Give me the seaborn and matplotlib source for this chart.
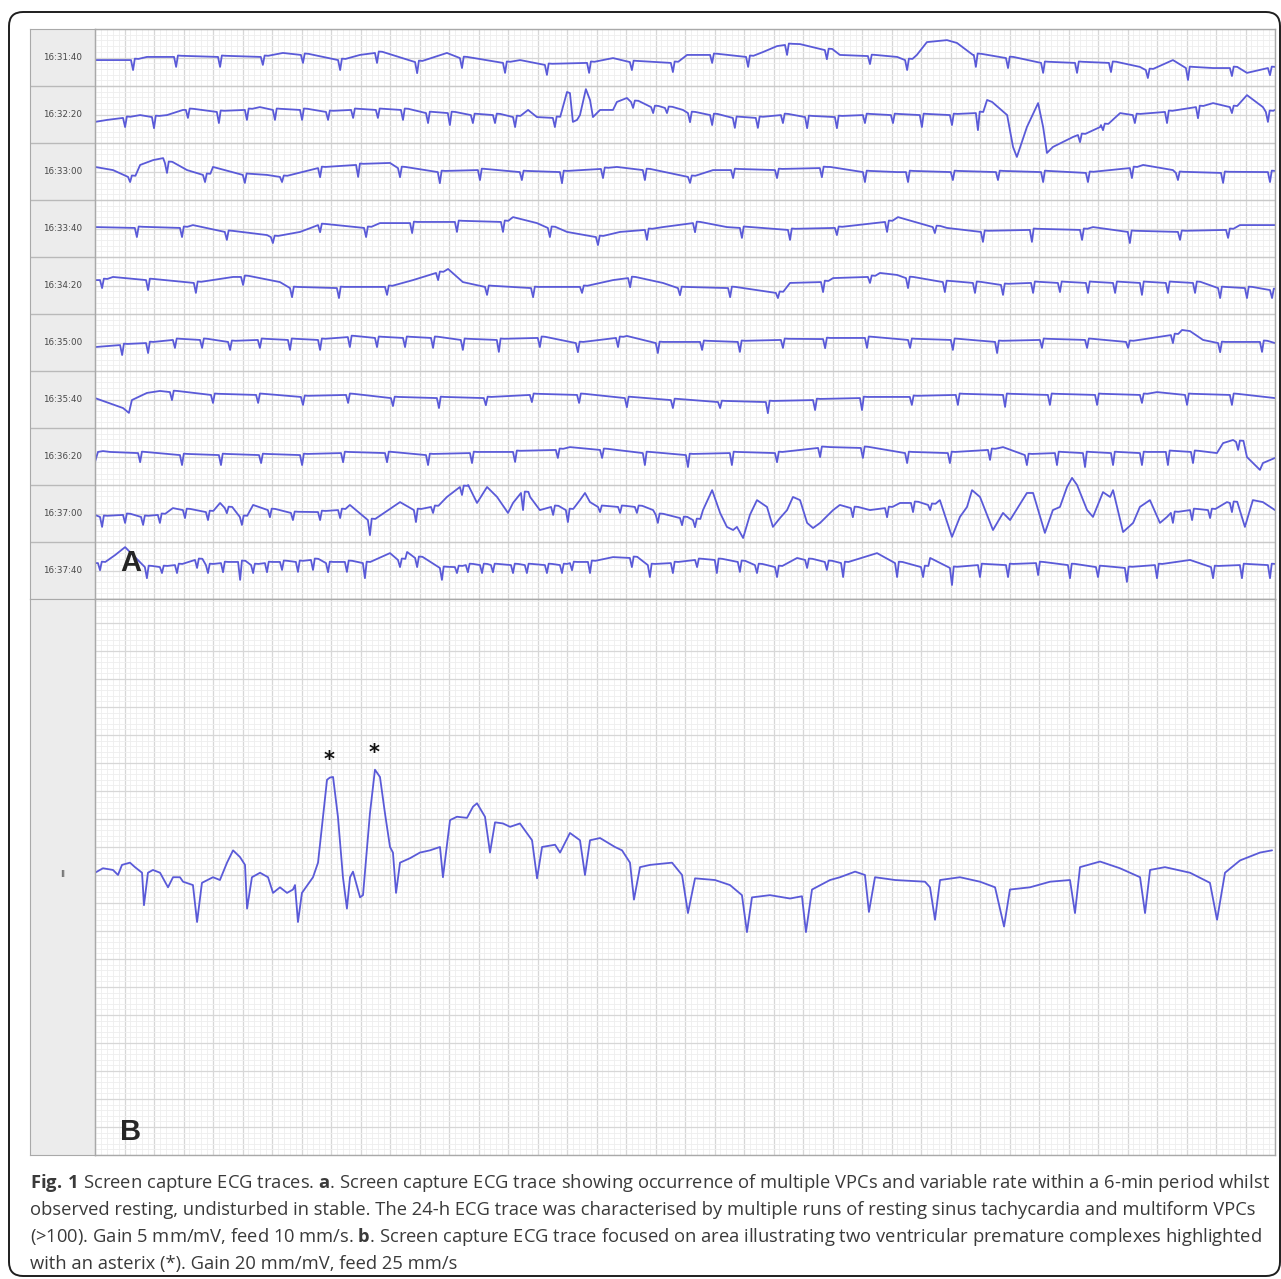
import numpy as np
import pandas as pd
import seaborn as sns
import matplotlib.pyplot as plt
from matplotlib.patches import FancyBboxPatch
from matplotlib.ticker import MultipleLocator

# ---------------- data read off the screen capture ----------------
# panel A: ten 40 s strips (time in s from strip start, amplitude in mV)
row_labels = ["16:31:40", "16:32:20", "16:33:00", "16:33:40", "16:34:20",
              "16:35:00", "16:35:40", "16:36:20", "16:37:00", "16:37:40"]

# QRS complexes: time, baseline level, depth of the negative deflection
beat_t = [
    [1.29, 2.75, 4.24, 5.69, 7.05, 8.31, 9.56, 10.92, 12.44, 13.90, 15.32, 16.75, 18.20, 19.59, 20.92,
     22.14, 23.46, 24.81, 26.27, 27.53, 29.86, 30.95, 32.14, 33.29, 34.44, 35.69, 37.05, 38.54, 39.83],
    [1.02, 2.00, 3.15, 4.20, 5.15, 6.10, 7.02, 7.90, 8.75, 9.59, 10.44, 11.29, 12.03, 12.81, 13.56,
     14.24, 15.59, 18.24, 18.92, 19.39, 20.17, 20.92, 21.69, 22.47, 23.32, 24.14, 25.15, 26.10, 27.05,
     28.03, 29.05, 29.93, 33.39, 34.17, 35.25, 36.34, 37.39, 38.54, 39.76],
    [1.19, 2.44, 3.73, 5.08, 6.34, 7.63, 8.92, 10.34, 11.69, 13.05, 14.47, 15.83, 17.22, 18.64, 20.17,
     21.63, 23.12, 24.64, 26.10, 27.56, 29.08, 30.61, 32.14, 33.66, 35.15, 36.71, 38.24, 39.83],
    [1.42, 2.95, 4.47, 6.03, 7.63, 9.19, 10.75, 12.27, 13.83, 15.42, 17.05, 18.71, 20.34, 21.93, 23.56,
     25.15, 26.85, 28.47, 30.10, 31.76, 33.46, 35.08, 36.78, 38.41],
    [0.24, 1.80, 3.42, 5.02, 6.68, 8.27, 9.90, 11.63, 13.29, 14.85, 16.51, 18.14, 19.83, 21.53, 23.15,
     24.68, 26.27, 27.56, 28.81, 29.83, 30.78, 31.80, 32.71, 33.66, 34.58, 35.49, 36.37, 37.29, 38.14,
     39.05, 39.90],
    [0.92, 1.80, 2.71, 3.63, 4.58, 5.59, 6.61, 7.63, 8.64, 9.56, 10.51, 11.46, 12.47, 13.69, 15.08,
     16.37, 17.73, 19.08, 20.58, 21.86, 23.32, 24.75, 26.17, 27.63, 29.08, 30.58, 32.10, 33.63, 35.02,
     36.54, 38.14, 39.56],
    [2.61, 4.00, 5.53, 7.05, 8.58, 10.10, 11.66, 13.25, 14.81, 16.41, 18.03, 19.59, 21.19, 22.81, 24.41,
     26.00, 27.69, 29.25, 30.85, 32.37, 33.97, 35.49, 37.02, 38.54],
    [1.53, 2.95, 4.27, 5.63, 7.02, 8.41, 9.90, 11.29, 12.78, 14.24, 15.69, 17.19, 18.64, 20.10, 21.59,
     23.12, 24.58, 26.03, 27.53, 28.98, 30.34, 31.59, 32.61, 33.56, 34.51, 35.49, 36.37, 37.22, 38.75],
    [0.24, 1.02, 1.63, 2.20, 3.05, 3.83, 4.47, 4.98, 5.93, 6.71, 7.63, 8.31, 9.32, 10.88, 11.46, 12.44,
     14.51, 15.53, 16.03, 17.12, 17.80, 18.37, 19.08, 19.90, 20.34, 25.69, 26.85, 27.73, 28.31, 36.54,
     37.19, 37.80, 38.54],
    [0.17, 1.76, 2.27, 2.78, 3.46, 3.83, 4.34, 4.92, 5.36, 5.83, 6.34, 6.88, 7.39, 7.90, 8.54, 9.15,
     10.34, 10.92, 11.76, 12.27, 12.64, 13.12, 13.49, 14.17, 14.64, 15.32, 15.83, 16.17, 16.78, 18.20,
     18.81, 19.59, 20.41, 21.08, 21.86, 22.44, 23.12, 24.14, 24.81, 25.36, 27.19, 28.07, 29.05, 30.00,
     30.95, 31.97, 33.05, 34.00, 34.98, 36.00, 37.90, 38.88, 39.83],
]
beat_level = [
    [-0.09, 0.02, 0.02, 0.02, 0.09, -0.09, 0.16, -0.16, -0.02, -0.19, -0.26, -0.19, -0.16, -0.19, 0.09,
     0.02, 0.44, 0.26, 0.05, -0.09, 0.09, -0.02, -0.19, -0.19, -0.19, -0.44, -0.37, -0.37, -0.37],
    [-0.12, -0.09, 0.16, 0.09, 0.16, 0.16, 0.16, 0.09, 0.16, 0.16, 0.16, 0.05, 0.05, -0.02, -0.02,
     -0.09, -0.12, 0.44, 0.26, 0.23, 0.05, -0.02, -0.12, -0.12, -0.02, -0.09, -0.09, -0.02, -0.02,
     -0.02, -0.02, 0.05, -0.72, -0.37, -0.02, 0.09, 0.26, 0.26, 0.09],
    [-0.19, 0.30, -0.12, -0.12, -0.19, 0.12, 0.23, 0.12, -0.02, 0.05, -0.02, -0.02, 0.09, 0.05, -0.19,
     0.05, 0.05, 0.12, -0.02, -0.02, -0.02, -0.02, -0.02, -0.05, 0.12, -0.05, -0.05, -0.02],
    [0.02, 0.02, -0.12, -0.30, 0.12, 0.02, 0.19, 0.23, 0.23, 0.02, -0.30, -0.05, 0.19, 0.02, -0.05,
     0.02, 0.23, 0.05, -0.12, -0.05, -0.05, -0.12, -0.12, -0.05],
    [0.19, 0.19, 0.09, 0.30, -0.09, -0.09, -0.05, 0.44, -0.05, -0.09, -0.05, 0.26, -0.09, -0.09, -0.26,
     0.12, 0.30, 0.26, 0.12, 0.09, 0.02, 0.09, 0.09, 0.09, 0.09, 0.09, 0.09, 0.09, -0.09, -0.09, -0.16],
    [-0.09, -0.02, 0.09, 0.09, 0.02, 0.09, 0.09, 0.09, 0.19, 0.16, 0.16, 0.16, 0.09, 0.09, 0.16, -0.02,
     0.16, -0.02, 0.02, 0.02, 0.09, 0.12, 0.16, 0.09, 0.09, 0.02, 0.09, 0.09, 0.02, 0.26, -0.02, 0.02],
    [0.26, 0.16, 0.16, 0.09, 0.16, 0.05, 0.05, 0.05, 0.16, 0.16, 0.05, -0.02, -0.09, -0.09, -0.02,
     0.05, 0.09, 0.16, 0.16, 0.16, 0.16, 0.16, 0.16, 0.16],
    [0.12, 0.05, 0.05, 0.05, 0.05, 0.12, 0.12, 0.05, 0.12, 0.16, 0.23, 0.23, 0.12, 0.05, 0.12, 0.12,
     0.30, 0.30, 0.12, 0.12, 0.23, 0.05, 0.12, 0.12, 0.12, 0.12, 0.16, 0.16, 0.51],
    [-0.12, -0.05, -0.12, -0.05, 0.12, 0.05, 0.19, -0.12, 0.12, 0.02, 0.05, 0.12, -0.23, 0.12, 0.23,
     0.93, 0.72, 0.23, 0.12, 0.23, 0.23, 0.23, -0.05, -0.16, -0.23, 0.19, 0.19, 0.37, 0.30, 0.02, 0.12,
     0.12, 0.37],
    [0.26, 0.12, 0.12, 0.19, 0.37, 0.19, 0.26, 0.30, 0.19, 0.26, 0.30, 0.30, 0.37, 0.26, 0.30, 0.26,
     0.37, 0.44, 0.09, 0.12, 0.19, 0.19, 0.19, 0.19, 0.19, 0.19, 0.19, 0.26, 0.30, 0.44, 0.19, 0.26,
     0.37, 0.37, 0.30, 0.19, 0.12, 0.37, 0.30, 0.26, 0.26, 0.12, 0.09, 0.19, 0.19, 0.26, 0.19, 0.12,
     0.09, 0.19, 0.12, 0.19, 0.19],
]
beat_depth = [
    [0.35, 0.35, 0.35, 0.28, 0.28, 0.35, 0.35, 0.39, 0.35, 0.35, 0.35, 0.35, 0.28, 0.32, 0.28, 0.35,
     0.35, 0.32, 0.28, 0.35, 0.42, 0.35, 0.35, 0.35, 0.32, 0.28, 0.42, 0.28, 0.25],
    [0.32, 0.39, 0.28, 0.39, 0.35, 0.35, 0.35, 0.28, 0.28, 0.28, 0.35, 0.35, 0.42, 0.28, 0.28, 0.35,
     0.32, 0.21, 0.21, 0.18, 0.32, 0.35, 0.35, 0.35, 0.28, 0.39, 0.39, 0.28, 0.28, 0.42, 0.35, 0.60,
     0.25, 0.18, 0.28, 0.39, 0.39, 0.21, 0.35],
    [0.18, 0.35, 0.25, 0.28, 0.18, 0.32, 0.42, 0.32, 0.39, 0.35, 0.28, 0.39, 0.32, 0.35, 0.21, 0.28,
     0.28, 0.32, 0.35, 0.35, 0.28, 0.28, 0.35, 0.32, 0.35, 0.25, 0.35, 0.35],
    [0.32, 0.32, 0.28, 0.21, 0.25, 0.32, 0.35, 0.35, 0.35, 0.32, 0.28, 0.35, 0.32, 0.35, 0.35, 0.25,
     0.35, 0.21, 0.35, 0.42, 0.35, 0.39, 0.28, 0.28],
    [0.28, 0.35, 0.35, 0.28, 0.32, 0.35, 0.28, 0.25, 0.28, 0.32, 0.21, 0.32, 0.25, 0.32, 0.18, 0.35,
     0.21, 0.35, 0.35, 0.35, 0.35, 0.35, 0.32, 0.35, 0.35, 0.42, 0.35, 0.35, 0.35, 0.35, 0.28],
    [0.35, 0.35, 0.28, 0.28, 0.28, 0.28, 0.35, 0.35, 0.35, 0.32, 0.32, 0.35, 0.35, 0.42, 0.32, 0.32,
     0.32, 0.35, 0.28, 0.35, 0.28, 0.32, 0.35, 0.28, 0.35, 0.39, 0.28, 0.28, 0.21, 0.28, 0.32, 0.35],
    [0.28, 0.28, 0.28, 0.28, 0.28, 0.28, 0.35, 0.25, 0.25, 0.28, 0.32, 0.28, 0.21, 0.39, 0.35, 0.42,
     0.28, 0.35, 0.42, 0.35, 0.35, 0.28, 0.35, 0.35],
    [0.32, 0.35, 0.35, 0.28, 0.35, 0.32, 0.32, 0.35, 0.35, 0.35, 0.28, 0.28, 0.42, 0.42, 0.42, 0.32,
     0.32, 0.35, 0.35, 0.35, 0.35, 0.35, 0.42, 0.49, 0.42, 0.42, 0.46, 0.39, 0.28],
    [0.35, 0.28, 0.28, 0.28, 0.28, 0.28, 0.18, 0.28, 0.25, 0.25, 0.28, 0.28, 0.53, 0.42, 0.21, 0.28,
     0.60, 0.28, 0.42, 0.18, 0.21, 0.21, 0.28, 0.25, 0.25, 0.32, 0.32, 0.32, 0.18, 0.35, 0.35, 0.28,
     0.32],
    [0.25, 0.39, 0.21, 0.28, 0.28, 0.28, 0.32, 0.63, 0.28, 0.32, 0.28, 0.35, 0.35, 0.32, 0.35, 0.53,
     0.25, 0.32, 0.42, 0.21, 0.25, 0.28, 0.25, 0.28, 0.28, 0.28, 0.28, 0.25, 0.39, 0.32, 0.42, 0.35,
     0.25, 0.46, 0.35, 0.28, 0.35, 0.28, 0.28, 0.49, 0.49, 0.35, 0.60, 0.42, 0.42, 0.42, 0.46, 0.35,
     0.49, 0.46, 0.39, 0.46, 0.46],
]

# baseline drift, T waves and VPC excursions between the complexes
knot_t = [
    [0.0, 1.76, 6.37, 8.98, 11.93, 14.41, 17.56, 20.07, 22.64, 23.12, 23.90, 25.25, 27.19, 27.86, 28.20,
     28.88, 29.22, 29.76, 35.42, 36.54, 37.90, 39.05, 40.0],
    [0.0, 0.41, 1.53, 2.44, 2.98, 5.59, 14.68, 14.98, 15.76, 16.00, 16.10, 16.20, 16.34, 16.44, 16.64,
     16.78, 16.88, 17.12, 17.56, 17.69, 18.03, 18.71, 19.93, 30.24, 30.41, 30.92, 31.12, 31.25, 31.59,
     31.97, 32.14, 32.27, 32.47, 33.15, 34.07, 34.75, 37.90, 39.05, 39.59, 40.0],
    [0.0, 0.61, 1.53, 1.97, 2.31, 3.12, 4.00, 5.83, 6.51, 10.00, 17.69, 20.95, 24.92, 27.19, 35.53,
     36.54, 40.0],
    [0.0, 3.32, 5.83, 6.95, 7.39, 9.66, 14.17, 14.98, 16.00, 17.80, 19.25, 21.42, 27.22, 28.88, 33.83,
     38.81, 40.0],
    [0.0, 0.61, 4.68, 6.27, 9.66, 10.78, 11.97, 12.47, 17.56, 19.25, 23.56, 25.02, 26.61, 27.19, 40.0],
    [0.0, 18.03, 36.85, 37.12, 37.56, 40.0],
    [0.0, 0.95, 1.15, 1.25, 1.76, 2.20, 36.00, 40.0],
    [0.0, 0.10, 0.27, 0.51, 16.10, 24.92, 30.78, 38.03, 38.24, 38.58, 39.05, 39.49, 39.59, 40.0],
    [0.0, 2.64, 4.24, 5.36, 8.64, 10.34, 11.93, 12.65, 12.95, 13.29, 13.63, 14.00, 14.17, 14.75, 15.08,
     16.44, 16.61, 16.78, 18.92, 20.61, 20.92, 21.19, 21.42, 21.63, 21.76, 21.97, 22.20, 22.44, 22.78,
     22.98, 23.22, 23.46, 23.66, 23.90, 24.14, 24.34, 24.58, 25.02, 25.25, 26.27, 27.29, 28.64, 29.05,
     29.32, 29.56, 29.73, 30.00, 30.44, 30.78, 31.02, 31.59, 31.80, 32.20, 32.47, 32.71, 32.95, 33.12,
     33.29, 33.63, 33.83, 34.17, 34.41, 34.51, 34.85, 35.19, 35.42, 35.76, 36.10, 36.34, 38.37, 38.98,
     39.25, 39.59, 40.0],
    [0.0, 0.68, 1.02, 10.00, 10.58, 17.56, 23.80, 26.51, 28.31, 37.12, 40.0],
]
knot_v = [
    [-0.09, 0.02, 0.16, 0.09, 0.16, -0.09, -0.02, 0.09, 0.19, 0.40, 0.47, 0.09, 0.02, 0.09, 0.54, 0.61,
     0.51, 0.09, -0.33, -0.09, -0.37, -0.54, -0.37],
    [-0.26, -0.19, -0.02, -0.02, 0.16, 0.26, 0.16, -0.09, 0.05, 0.79, 0.75, -0.26, -0.19, -0.02, 0.89,
     0.51, -0.09, 0.16, 0.16, 0.44, 0.58, 0.33, 0.16, 0.51, 0.44, -0.02, -1.14, -1.49, -0.44, 0.40,
     -0.44, -1.35, -1.14, -0.79, -0.44, 0.05, 0.40, 0.68, 0.26, 0.16],
    [0.16, 0.05, 0.23, 0.40, 0.47, 0.05, 0.16, -0.12, 0.05, 0.30, 0.16, 0.05, 0.16, -0.02, 0.23, 0.05,
     -0.02],
    [0.05, 0.12, -0.23, -0.12, 0.05, 0.19, 0.40, 0.19, -0.12, -0.12, 0.05, 0.05, 0.40, 0.02, 0.05, 0.12,
     0.12],
    [0.19, 0.30, 0.30, 0.12, -0.05, 0.19, 0.58, 0.12, 0.19, 0.09, 0.09, 0.26, 0.44, 0.37, -0.16],
    [-0.16, 0.23, 0.44, 0.40, 0.09, -0.02],
    [0.05, -0.30, -0.47, -0.02, 0.23, 0.30, 0.26, 0.05],
    [-0.19, 0.16, 0.19, 0.16, 0.33, 0.33, 0.33, 0.12, 0.47, 0.58, -0.02, -0.47, -0.23, -0.05],
    [-0.05, 0.19, 0.37, 0.30, 0.30, 0.40, 0.58, 1.00, 0.37, 0.93, 0.58, 0.02, 0.37, 0.58, 0.12, 0.47,
     0.72, 0.40, 0.12, 0.12, 0.82, 0.02, -0.47, -0.58, -0.47, -0.86, -0.05, 0.47, 0.23, -0.47, -0.16,
     0.12, 0.58, 0.47, -0.33, -0.51, -0.33, 0.12, 0.30, 0.12, 0.37, 0.47, -0.82, -0.12, 0.23, 0.82,
     0.58, -0.58, 0.02, -0.23, 0.72, 0.72, -0.68, 0.12, 0.23, 0.93, 1.25, 1.00, 0.12, -0.12, 0.75,
     0.58, 0.82, -0.65, -0.33, 0.23, 0.47, -0.33, -0.12, 0.40, -0.47, 0.47, 0.40, 0.12],
    [0.26, 0.54, 0.82, 0.61, 0.65, 0.47, 0.44, 0.61, 0.44, 0.37, -0.26],
]

# panel B: lead II, 8 s window (s, mV)
b_t = [0.0, 0.054, 0.122, 0.156, 0.183, 0.237, 0.271, 0.319, 0.332, 0.359,
       0.393, 0.441, 0.495, 0.529, 0.576, 0.597, 0.664, 0.692, 0.725, 0.800,
       0.847, 0.895, 0.936, 0.983, 1.017, 1.031, 1.064, 1.119, 1.173, 1.207,
       1.254, 1.302, 1.342, 1.356, 1.376, 1.403, 1.478, 1.512, 1.573, 1.593,
       1.614, 1.647, 1.681, 1.708, 1.729, 1.749, 1.797, 1.817, 1.864, 1.898,
       1.932, 1.966, 2.000, 2.020, 2.041, 2.068, 2.136, 2.203, 2.271, 2.339,
       2.359, 2.407, 2.454, 2.522, 2.563, 2.590, 2.644, 2.678, 2.712, 2.766,
       2.814, 2.881, 2.963, 2.997, 3.031, 3.119, 3.153, 3.220, 3.288, 3.322,
       3.356, 3.424, 3.525, 3.573, 3.627, 3.654, 3.695, 3.763, 3.912, 3.980,
       4.020, 4.068, 4.203, 4.305, 4.386, 4.420, 4.454, 4.576, 4.712, 4.793,
       4.820, 4.861, 4.983, 5.051, 5.153, 5.220, 5.247, 5.288, 5.424, 5.627,
       5.661, 5.695, 5.729, 5.864, 6.000, 6.102, 6.163, 6.203, 6.339, 6.475,
       6.610, 6.644, 6.678, 6.814, 6.949, 7.085, 7.119, 7.153, 7.254, 7.424,
       7.559, 7.607, 7.661, 7.763, 7.898, 7.980]
b_mv = [0.02, 0.06, 0.045, 0.0, 0.09, 0.11, 0.07, 0.02, -0.27, 0.02,
        0.045, 0.02, -0.11, -0.02, -0.02, -0.06, -0.09, -0.42, -0.07, -0.02,
        -0.045, 0.11, 0.22, 0.16, 0.09, -0.30, -0.02, 0.02, -0.02, -0.16,
        -0.11, -0.16, -0.13, -0.09, -0.42, -0.16, -0.02, 0.11, 0.85, 0.87,
        0.875, 0.52, -0.02, -0.30, -0.02, 0.03, -0.20, -0.18, 0.55, 0.94,
        0.875, 0.55, 0.25, 0.20, -0.16, 0.11, 0.15, 0.20, 0.22, 0.25,
        -0.02, 0.49, 0.52, 0.51, 0.61, 0.64, 0.52, 0.20, 0.47, 0.46,
        0.43, 0.46, 0.31, -0.03, 0.25, 0.27, 0.20, 0.375, 0.31, 0.0,
        0.31, 0.33, 0.25, 0.22, 0.11, -0.22, 0.07, 0.09, 0.11, 0.0,
        -0.34, -0.03, -0.045, -0.09, -0.18, -0.51, -0.20, -0.18, -0.21, -0.19,
        -0.51, -0.13, -0.045, -0.02, 0.03, 0.0, -0.33, -0.02, -0.045, -0.06,
        -0.11, -0.40, -0.045, -0.02, -0.06, -0.11, -0.46, -0.13, -0.11, -0.06,
        -0.045, -0.34, 0.07, 0.12, 0.06, -0.02, -0.34, 0.045, 0.07, 0.02,
        -0.07, -0.40, 0.02, 0.13, 0.20, 0.22]
vpc_t = [1.593, 1.898]

caption = [
    r"$\mathbf{Fig.\,1}$ Screen capture ECG traces. $\mathbf{a}$. Screen capture ECG trace showing "
    "occurrence of multiple VPCs and variable rate within a 6-min period whilst",
    "observed resting, undisturbed in stable. The 24-h ECG trace was characterised by multiple runs "
    "of resting sinus tachycardia and multiform VPCs",
    r"(>100). Gain 5 mm/mV, feed 10 mm/s. $\mathbf{b}$. Screen capture ECG trace focused on area "
    "illustrating two ventricular premature complexes highlighted",
    "with an asterix (*). Gain 20 mm/mV, feed 25 mm/s",
]

# ---------------- styling ----------------
sns.set_style("white")
plt.rcParams["font.family"] = ["DejaVu Sans"]
plt.rcParams["mathtext.fontset"] = "custom"
plt.rcParams["mathtext.rm"] = "Open Sans"
plt.rcParams["mathtext.bf"] = "Open Sans:bold"

TRACE = "#5a5ad8"
MAJOR = "#d7d7d7"
MINOR = "#eeeeee"
EDGE = "#a9a9a9"
PANEL = "#ececec"

W, H = 1281, 1279


def box(x0, y0, x1, y1):
    return [x0 / W, 1 - y1 / H, (x1 - x0) / W, (y1 - y0) / H]


def strip_vertices(bt, bl, bd, kt, kv):
    pts = []
    for t, lv, d in zip(bt, bl, bd):
        pts += [(t - 0.07, lv), (t, lv - d), (t + 0.06, lv + 0.05), (t + 0.18, lv + 0.04)]
    for t, v in zip(kt, kv):
        if not any(b - 0.08 <= t <= b + 0.19 for b in bt):
            pts.append((t, v))
    pts.sort()
    return pts


def ecg_grid(ax, xmaj, xmin, ymaj, ymin):
    ax.xaxis.set_major_locator(MultipleLocator(xmaj))
    ax.xaxis.set_minor_locator(MultipleLocator(xmin))
    ax.yaxis.set_major_locator(MultipleLocator(ymaj))
    ax.yaxis.set_minor_locator(MultipleLocator(ymin))
    ax.grid(which="minor", color=MINOR, lw=0.6)
    ax.grid(which="major", color=MAJOR, lw=0.9)
    ax.set_axisbelow(True)
    ax.tick_params(which="both", length=0, labelbottom=False, labelleft=False)
    ax.set_xlabel("")
    ax.set_ylabel("")
    for s in ax.spines.values():
        s.set_color(EDGE)
        s.set_linewidth(1.0)


frames = []
for i in range(len(row_labels)):
    pts = strip_vertices(beat_t[i], beat_level[i], beat_depth[i], knot_t[i], knot_v[i])
    d = pd.DataFrame(pts, columns=["t", "mv"])
    d["row"] = i
    d["y"] = d["mv"] - 2 * i
    frames.append(d)
strips = pd.concat(frames, ignore_index=True)
lead2 = pd.DataFrame({"t": b_t, "mv": b_mv})

fig = plt.figure(figsize=(W / 100, H / 100), dpi=100)

# label columns
ax_la = fig.add_axes(box(30, 29, 95, 599))
ax_lb = fig.add_axes(box(30, 599, 95, 1155))
for ax in (ax_la, ax_lb):
    ax.set_facecolor(PANEL)
    ax.set_xticks([])
    ax.set_yticks([])
    ax.set_xlim(0, 1)
    for s in ax.spines.values():
        s.set_color(EDGE)
ax_la.set_ylim(-19, 1)
for i, lab in enumerate(row_labels):
    ax_la.text(0.5, -2 * i, lab, ha="center", va="center", fontsize=6.3, color="#474747")
for k in range(1, len(row_labels)):
    ax_la.axhline(1 - 2 * k, color="#b9b9b9", lw=1.0)
ax_lb.set_ylim(-2.5, 2.464)
ax_lb.text(0.5, 0, "II", ha="center", va="center", fontsize=6.3, color="#474747")

# panel A
ax_a = fig.add_axes(box(95, 29, 1275, 599))
sns.lineplot(data=strips, x="t", y="y", units="row", estimator=None, sort=False,
             color=TRACE, lw=1.3, solid_joinstyle="round", ax=ax_a)
ax_a.set_xlim(0, 40)
ax_a.set_ylim(-19, 1)
ecg_grid(ax_a, 1, 0.2, 1, 0.2)
for k in range(1, len(row_labels)):
    ax_a.axhline(1 - 2 * k, color="#c9c9c9", lw=0.9, zorder=1)

# panel B
ax_b = fig.add_axes(box(95, 599, 1275, 1155))
sns.lineplot(data=lead2, x="t", y="mv", estimator=None, sort=False, color=TRACE, lw=1.3,
             solid_joinstyle="round", ax=ax_b)
ax_b.set_xlim(0, 8)
ax_b.set_ylim(-2.5, 2.464)
ecg_grid(ax_b, 0.2, 0.04, 0.25, 0.05)
bt_arr, bv_arr = np.array(b_t), np.array(b_mv)
for tv in vpc_t:
    near = np.abs(bt_arr - tv) < 0.04
    peak = bv_arr[near].max()
    ax_b.annotate("*", (tv, peak), xytext=(-1, 12), textcoords="offset points",
                  ha="center", va="center", fontsize=15, fontweight="bold", color="#111111")

# panel letters
fig.text(131 / W, 1 - 563 / H, "A", ha="center", va="center", fontsize=21,
         fontweight="bold", family="Liberation Sans")
fig.text(131 / W, 1 - 1132 / H, "B", ha="center", va="center", fontsize=21,
         fontweight="bold", family="Liberation Sans")

# caption
for j, line in enumerate(caption):
    fig.text(30 / W, 1 - (1188 + 27 * j) / H, line, ha="left", va="baseline",
             fontsize=13.25, family="Open Sans", color="#3a3a3a")

# rounded frame around the whole figure
fig.patches.append(FancyBboxPatch((9 / W, 3 / H), 1271 / W, 1264 / H,
                                  boxstyle="round,pad=0,rounding_size=0.011",
                                  transform=fig.transFigure, fill=False,
                                  ec="#1e1e1e", lw=1.4))

fig.savefig("out.png", dpi=100, facecolor="white")
